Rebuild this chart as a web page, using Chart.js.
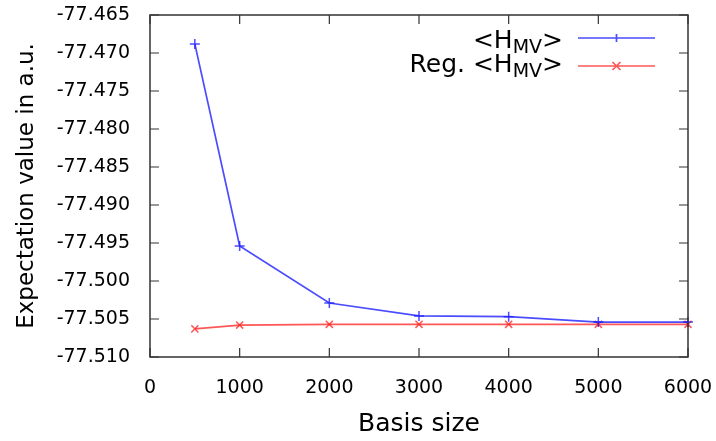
<!DOCTYPE html>
<html lang="en">
<head>
<meta charset="UTF-8" />
<title>Expectation value vs basis size</title>
<script src="https://cdn.jsdelivr.net/npm/chart.js"></script>
<style>
  * { margin: 0; padding: 0; }
  body { background: #fff; width: 716px; height: 441px; overflow: hidden; }
  #wrap { width: 716px; height: 441px; position: relative; }
</style>
</head>
<body>
<div id="wrap"><canvas id="chart"></canvas></div>
<script>
const basisSize = [500, 1000, 2000, 3000, 4000, 5000, 6000];
const hmv = [-77.4688, -77.4954, -77.5029, -77.5046, -77.5047, -77.5054, -77.5054];
const regHmv = [-77.5063, -77.5058, -77.5057, -77.5057, -77.5057, -77.5057, -77.5057];
const seriesNames = ['<H', 'Reg. <H'];

const FONT = "'DejaVu Sans', sans-serif";
const blue = 'rgba(30,30,255,0.8)';
const red = 'rgba(255,30,30,0.75)';

// gnuplot-like frame with inward ticks on all four sides
const framePlugin = {
  id: 'frame',
  afterDraw(chart) {
    const { ctx, chartArea: a, scales } = chart;
    ctx.save();
    ctx.strokeStyle = '#333';
    ctx.lineWidth = 1.5;
    ctx.strokeRect(a.left, a.top, a.right - a.left, a.bottom - a.top);
    ctx.lineWidth = 1.2;
    const len = 9;
    ctx.beginPath();
    scales.x.ticks.forEach(t => {
      const x = scales.x.getPixelForValue(t.value);
      ctx.moveTo(x, a.bottom); ctx.lineTo(x, a.bottom - len);
      ctx.moveTo(x, a.top); ctx.lineTo(x, a.top + len);
    });
    scales.y.ticks.forEach(t => {
      const y = scales.y.getPixelForValue(t.value);
      ctx.moveTo(a.left, y); ctx.lineTo(a.left + len, y);
      ctx.moveTo(a.right, y); ctx.lineTo(a.right - len, y);
    });
    ctx.stroke();
    ctx.restore();
  }
};

// legend with subscripts, text right-aligned before the sample line
const legendPlugin = {
  id: 'subLegend',
  afterDraw(chart) {
    const { ctx } = chart;
    const rightText = 563, x0 = 578, x1 = 655;
    const rows = [38, 66];
    const baselines = [48, 72];
    ctx.save();
    chart.data.datasets.forEach((ds, i) => {
      const y = rows[i], b = baselines[i];
      const big = '25px ' + FONT, small = '19px ' + FONT;
      ctx.font = big;
      const wGt = ctx.measureText('>').width;
      const wPre = ctx.measureText(seriesNames[i]).width;
      ctx.font = small;
      const wSub = ctx.measureText('MV').width;
      let x = rightText - wGt - wSub - wPre;
      ctx.fillStyle = '#000';
      ctx.textBaseline = 'alphabetic';
      ctx.textAlign = 'left';
      ctx.font = big;
      ctx.fillText(seriesNames[i], x, b);
      x += wPre;
      ctx.font = small;
      ctx.fillText('MV', x, b + 5);
      x += wSub;
      ctx.font = big;
      ctx.fillText('>', x, b);

      ctx.strokeStyle = ds.borderColor;
      ctx.lineWidth = 1.7;
      ctx.beginPath();
      ctx.moveTo(x0, y); ctx.lineTo(x1, y);
      const m = (x0 + x1) / 2, r = 4;
      if (i === 0) {
        ctx.moveTo(m - r, y); ctx.lineTo(m + r, y);
        ctx.moveTo(m, y - r); ctx.lineTo(m, y + r);
      } else {
        ctx.moveTo(m - r, y - r); ctx.lineTo(m + r, y + r);
        ctx.moveTo(m - r, y + r); ctx.lineTo(m + r, y - r);
      }
      ctx.stroke();
    });
    ctx.restore();
  }
};

new Chart(document.getElementById('chart'), {
  type: 'line',
  data: {
    datasets: [
      {
        label: '<H_MV>',
        data: basisSize.map((x, i) => ({ x, y: hmv[i] })),
        borderColor: blue,
        backgroundColor: blue,
        borderWidth: 1.7,
        pointStyle: 'cross',
        pointRadius: 5,
        pointBorderWidth: 1.5,
        tension: 0
      },
      {
        label: 'Reg. <H_MV>',
        data: basisSize.map((x, i) => ({ x, y: regHmv[i] })),
        borderColor: red,
        backgroundColor: red,
        borderWidth: 1.7,
        pointStyle: 'crossRot',
        pointRadius: 5,
        pointBorderWidth: 1.5,
        tension: 0
      }
    ]
  },
  options: {
    responsive: true,
    maintainAspectRatio: false,
    animation: false,
    clip: false,
    layout: { padding: { top: 15, right: 28, left: 0, bottom: 0 } },
    plugins: { legend: { display: false }, tooltip: { enabled: false } },
    scales: {
      x: {
        type: 'linear',
        min: 0, max: 6000,
        ticks: { stepSize: 1000, color: '#000', font: { family: FONT, size: 19 }, padding: 20, callback: v => String(v) },
        grid: { drawOnChartArea: false, drawTicks: false },
        border: { display: false },
        title: { display: true, text: 'Basis size', color: '#000', font: { family: FONT, size: 25 }, padding: { top: 4, bottom: 2 } },
        afterFit(s) { s.height = 84; s.paddingLeft = 0; s.paddingRight = 0; }
      },
      y: {
        min: -77.510, max: -77.465,
        ticks: {
          stepSize: 0.005, color: '#000', font: { family: FONT, size: 19 }, padding: 20,
          callback: v => v.toFixed(3)
        },
        grid: { drawOnChartArea: false, drawTicks: false },
        border: { display: false },
        title: { display: true, text: 'Expectation value in a.u.', color: '#000', font: { family: FONT, size: 23 }, padding: { top: 13, bottom: 0 } },
        afterFit(s) { s.width = 150; s.paddingTop = 0; s.paddingBottom = 0; }
      }
    }
  },
  plugins: [framePlugin, legendPlugin]
});
</script>
</body>
</html>
